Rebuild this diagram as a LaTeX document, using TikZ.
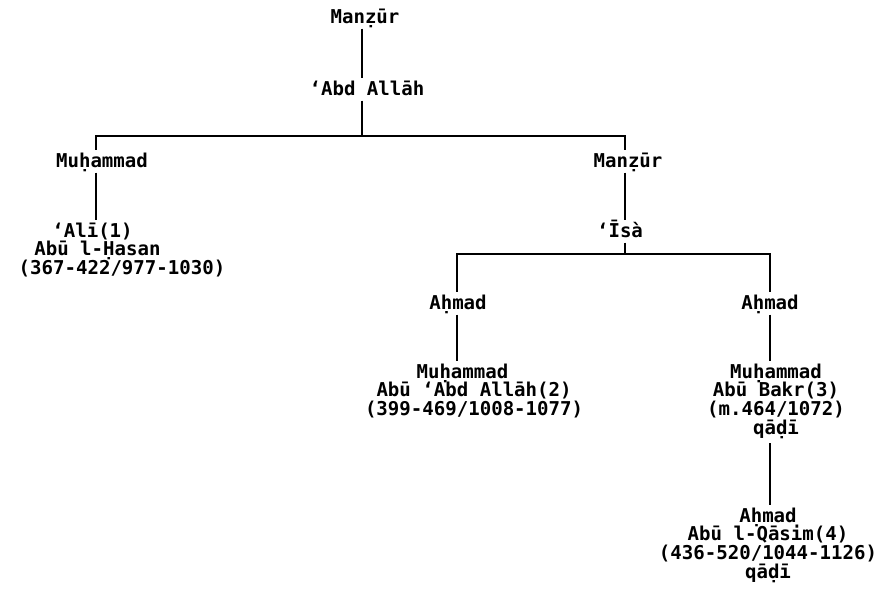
\documentclass[tikz,border=0pt]{standalone}
\usepackage{fontspec}
\newfontfamily\monof{DejaVu Sans Mono Bold}
\newcommand\ts{\rule{0pt}{13.1pt}}
\newcommand\bs{\rule[-3.75pt]{0pt}{0pt}}
\newcommand\bsq{\rule[-6.5pt]{0pt}{0pt}}
% one line of a block, its centre shifted by #1
\newcommand\Ln[2]{\makebox[0pt]{\hspace*{#1}\hspace*{#1}#2}}
\newcommand\personfont{\monof\fontsize{14.3}{14}\selectfont\lineskiplimit=-50pt\relax\lineskip=0pt\relax}
\tikzset{
  person/.style={anchor=north, inner sep=0pt, align=center, font=\personfont},
  conn/.style={line width=1.1pt, line join=miter},
}
\begin{document}
\begin{tikzpicture}[x=0.75pt, y=-0.75pt]
\useasboundingbox (0,0) rectangle (885,604);
% persons
\node[person] (mz1) at (365,5.5) {\ts Manẓūr\bs};
\node[person] (abd) at (367,77.5) {\ts ‘Abd Allāh\bs};
\node[person] (mu1) at (102,149.5) {\ts Muḥammad\bs};
\node[person] (mz2) at (628,149.5) {\ts Manẓūr\bs};
\node[person] (ali) at (100,219.5) {\ts\Ln{-5.6pt}{‘Alī(1)}\\\Ln{-1.9pt}{Abū l-Ḥasan}\\\Ln{16.5pt}{(367-422/977-1030)}\bs};
\node[person] (isa) at (620,219.5) {\ts ‘Īsà\bs};
\node[person] (ah1) at (458,291.5) {\ts Aḥmad\bs};
\node[person] (ah2) at (770,291.5) {\ts Aḥmad\bs};
\node[person] (mu2) at (467,360.5) {\ts\Ln{-3.4pt}{Muḥammad}\\\Ln{5.3pt}{Abū ‘Abd Allāh(2)}\\\Ln{5.3pt}{(399-469/1008-1077)}\bs};
\node[person] (mu3) at (776,360.5) {\ts Muḥammad\\Abū Bakr(3)\\(m.464/1072)\\qāḍī\bsq};
\node[person] (ah3) at (768,504.5) {\ts Aḥmad\\Abū l-Qāsim(4)\\(436-520/1044-1126)\\qāḍī\bs};
% junctions
\coordinate (j1) at (362,136);
\coordinate (b1l) at (96,136);
\coordinate (b1r) at (625,136);
\coordinate (j2) at (625,254);
\coordinate (b2l) at (457,254);
\coordinate (b2r) at (770,254);
% connectors
\draw[conn] (mz1.south -| j1) -- (abd.north -| j1);
\draw[conn] (abd.south -| j1) -- (j1);
\draw[conn] (mu1.north -| b1l) -- (b1l) -- (b1r) -- (mz2.north -| b1r);
\draw[conn] (mu1.south -| b1l) -- (ali.north -| b1l);
\draw[conn] (mz2.south -| b1r) -- (isa.north -| b1r);
\draw[conn] (isa.south -| j2) -- (j2);
\draw[conn] (ah1.north -| b2l) -- (b2l) -- (b2r) -- (ah2.north -| b2r);
\draw[conn] (ah1.south -| b2l) -- (mu2.north -| b2l);
\draw[conn] (ah2.south -| b2r) -- (mu3.north -| b2r);
\draw[conn] (mu3.south -| b2r) -- (ah3.north -| b2r);
\end{tikzpicture}
\end{document}
